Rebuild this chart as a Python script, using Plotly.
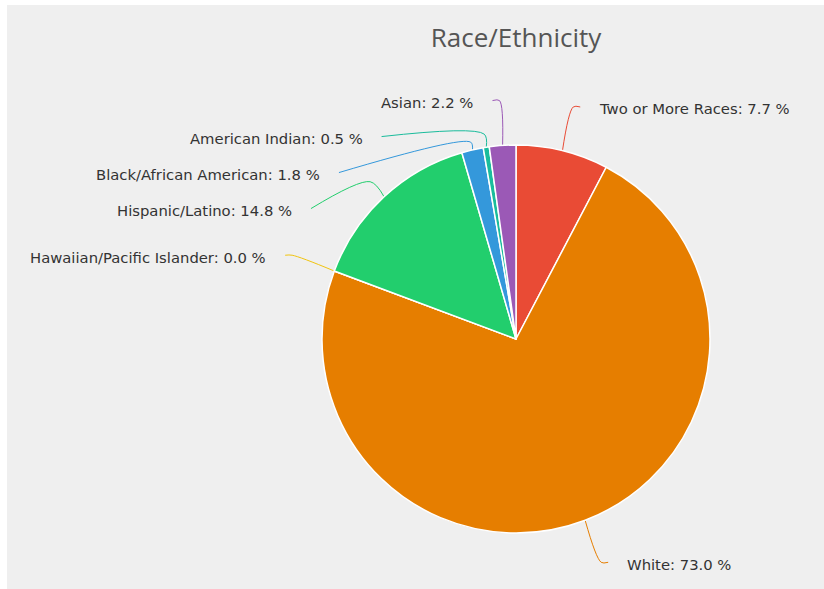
import math
import plotly.graph_objects as go

categories = ["Two or More Races", "White", "Hawaiian/Pacific Islander", "Hispanic/Latino",
              "Black/African American", "American Indian", "Asian"]
values = [7.7, 73.0, 0.0, 14.8, 1.8, 0.5, 2.2]
colors = ["#E94B35", "#E67E00", "#F1C40F", "#22CE6D", "#3498DB", "#1ABC9C", "#9B59B6"]

# figure geometry (pixels); page offset set to 7px left / 5px top below
W, H = 820, 586
cx, cy, r = 509, 334, 194
L1, L2 = 45, 7          # leader line lengths
GAP = 36                # min vertical spacing between labels on a side
R_SHIFT = 243           # radius used for x of shifted labels
TEXT_GAP = 17
TITLE_FONT = "Open Sans, sans-serif"
LABEL_FONT = "DejaVu Sans, sans-serif"

fig = go.Figure()
fig.add_trace(go.Pie(
    labels=categories,
    values=values,
    sort=False,
    direction="clockwise",
    rotation=0,
    marker=dict(colors=colors, line=dict(color="white", width=1.5)),
    textinfo="none",
    showlegend=False,
    hoverinfo="label+value",
    domain=dict(x=[(cx - r) / W, (cx + r) / W], y=[(H - cy - r) / H, (H - cy + r) / H]),
))

# ---- label layout derived from slice angles ----
total = sum(values)
items = []
cum = 0.0
for name, v, col in zip(categories, values, colors):
    mid = (cum + v / 2) / total * 2 * math.pi
    cum += v
    dx, dy = math.sin(mid), -math.cos(mid)
    p0 = (cx + r * dx, cy + r * dy)
    p1 = (p0[0] + L1 * dx, p0[1] + L1 * dy)
    items.append(dict(name=name, v=v, col=col, dx=dx, dy=dy, p0=p0, p1=p1,
                      side=-1 if dx < 0 else 1, base_y=p1[1], y=p1[1]))

for side in (-1, 1):
    lst = sorted([it for it in items if it["side"] == side], key=lambda it: it["base_y"])
    last = -1e9
    for it in lst:
        it["y"] = max(it["base_y"], last + GAP)
        last = it["y"]

annotations = []
for it in items:
    s = it["side"]
    p0 = it["p0"]
    shifted = abs(it["y"] - it["base_y"]) > 0.5
    if not shifted:
        p1 = it["p1"]
        p2 = (p1[0] + s * L2, p1[1])
    else:
        ddy = it["y"] - cy
        p2 = (cx + s * math.sqrt(max(R_SHIFT ** 2 - ddy ** 2, 0)), it["y"])
        proj = (p2[0] - p0[0]) * it["dx"] + (p2[1] - p0[1]) * it["dy"]
        t = min(L1, max(proj * 0.5, 8))
        p1 = (p0[0] + t * it["dx"], p0[1] + t * it["dy"])
    fig.add_trace(go.Scatter(
        x=[p0[0], p1[0], p2[0]], y=[p0[1], p1[1], p2[1]],
        mode="lines", line=dict(color=it["col"], width=1, shape="spline", smoothing=0.9),
        hoverinfo="skip", showlegend=False,
    ))
    annotations.append(dict(
        x=p2[0] + s * TEXT_GAP, y=p2[1] + 2, xref="x", yref="y",
        text=f"{it['name']}: {it['v']:.1f} %", showarrow=False,
        xanchor="left" if s > 0 else "right", yanchor="middle",
        font=dict(family=LABEL_FONT, size=14.8, color="#333333"),
    ))

fig.update_layout(
    width=W, height=H,
    margin=dict(l=0, r=0, t=0, b=0),
    paper_bgcolor="#EFEFEF",
    plot_bgcolor="rgba(0,0,0,0)",
    xaxis=dict(range=[0, W], domain=[0, 1], visible=False, fixedrange=True),
    yaxis=dict(range=[H, 0], domain=[0, 1], visible=False, fixedrange=True),
    title=dict(text="Race/Ethnicity", x=cx / W, xanchor="center", y=1 - 33 / H, yanchor="middle",
               font=dict(family=TITLE_FONT, size=26, color="#555555")),
    annotations=annotations,
)

fig.write_html(
    "out.html",
    post_script=("document.documentElement.style.overflow='hidden';"
                 "document.body.style.overflow='hidden';"
                 "document.body.style.margin='5px 0 0 7px';"),
)
